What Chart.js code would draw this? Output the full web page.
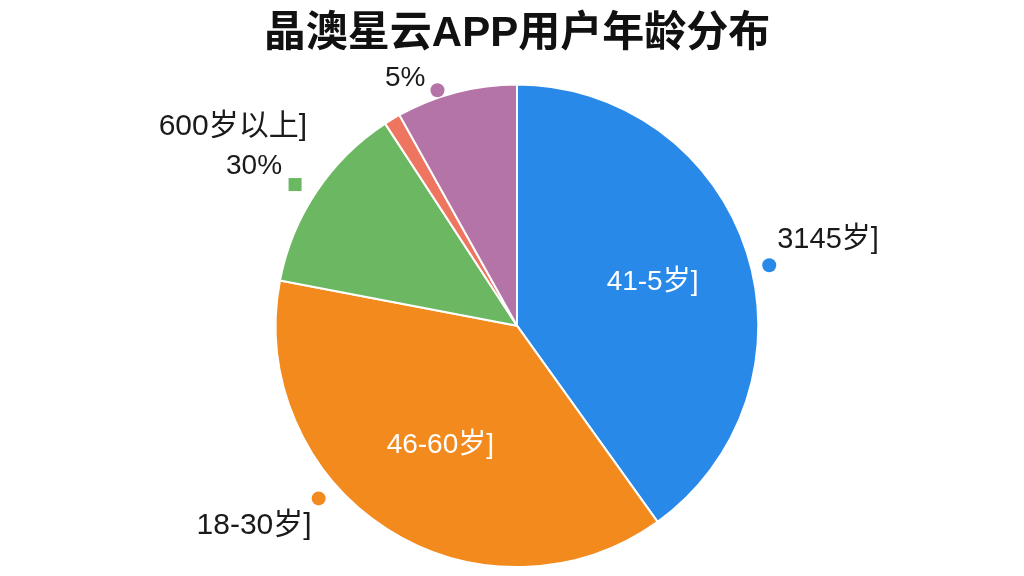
<!DOCTYPE html>
<html>
<head>
<meta charset="utf-8">
<script src="https://cdn.jsdelivr.net/npm/chart.js@4.4.1/dist/chart.umd.min.js"></script>
<style>
  html, body { margin: 0; padding: 0; background: #fff; }
  #wrap { width: 1024px; height: 576px; }
</style>
</head>
<body>
<div id="wrap"><canvas id="ageChart"></canvas></div>
<script>
// slice data, clockwise from 12 o'clock
const categories = ['3145岁]', '18-30岁]', '600岁以上]', '', '5%'];
const shares = [40.1, 37.9, 12.8, 1.1, 8.1];
const innerLabels = ['41-5岁]', '46-60岁]', '', '', ''];
const outerLabels = ['3145岁]', '18-30岁]', '600岁以上]', '', ''];
const percentLabels = ['', '', '30%', '', '5%'];
const sliceColors = ['#2889E9', '#F28A1E', '#6CB862', '#EE7560', '#B574A8'];

const FONT = "'Liberation Sans', 'Noto Sans CJK SC', sans-serif";

// where the marker sits along each slice and how its text hangs off it
const callouts = [
    { frac: 0.53, dist: 1.075, shape: 'circle', texts: [{ src: outerLabels, dx: 8, dy: -25, align: 'left', size: 29 }] },
    { frac: 0.62, dist: 1.09, shape: 'circle', texts: [{ src: outerLabels, dx: -7, dy: 27, align: 'right', size: 30 }] },
    { frac: 0.47, dist: 1.09, shape: 'square', texts: [
        { src: outerLabels, dx: 12, dy: -58, align: 'right', size: 30 },
        { src: percentLabels, dx: -13, dy: -18, align: 'right', size: 28 }
    ] },
    null,
    { frac: 0.36, dist: 1.03, shape: 'circle', texts: [{ src: percentLabels, dx: -12, dy: -12, align: 'right', size: 28 }] }
];

const labelPlugin = {
    id: 'sliceLabels',
    afterDatasetsDraw(chart) {
        const ctx = chart.ctx;
        const meta = chart.getDatasetMeta(0);
        ctx.save();
        meta.data.forEach((arc, i) => {
            const p = arc.getProps(['x', 'y', 'startAngle', 'endAngle', 'outerRadius'], true);
            const mid = (p.startAngle + p.endAngle) / 2;

            if (innerLabels[i]) {
                ctx.font = `28px ${FONT}`;
                ctx.fillStyle = '#fff';
                ctx.textAlign = 'center';
                ctx.textBaseline = 'middle';
                ctx.fillText(innerLabels[i], p.x + Math.cos(mid) * p.outerRadius * 0.59, p.y + Math.sin(mid) * p.outerRadius * 0.59);
            }

            const c = callouts[i];
            if (!c) return;
            const a = p.startAngle + c.frac * (p.endAngle - p.startAngle);
            const mx = p.x + Math.cos(a) * p.outerRadius * c.dist;
            const my = p.y + Math.sin(a) * p.outerRadius * c.dist;
            ctx.fillStyle = sliceColors[i];
            if (c.shape === 'square') {
                ctx.fillRect(mx - 6.5, my - 6.5, 13, 13);
            } else {
                ctx.beginPath();
                ctx.arc(mx, my, 7, 0, Math.PI * 2);
                ctx.fill();
            }

            ctx.fillStyle = '#1a1a1a';
            ctx.textBaseline = 'middle';
            c.texts.forEach(t => {
                ctx.font = `${t.size}px ${FONT}`;
                ctx.textAlign = t.align;
                ctx.fillText(t.src[i], mx + t.dx, my + t.dy);
            });
        });
        ctx.restore();
    }
};

new Chart(document.getElementById('ageChart'), {
    type: 'pie',
    data: {
        labels: categories,
        datasets: [{
            data: shares,
            backgroundColor: sliceColors,
            borderColor: '#fff',
            borderWidth: 2
        }]
    },
    options: {
        responsive: true,
        maintainAspectRatio: false,
        animation: false,
        layout: { padding: { top: 0, left: 10, right: 0, bottom: 8 } },
        plugins: {
            legend: { display: false },
            tooltip: { enabled: false },
            title: {
                display: true,
                text: '晶澳星云APP用户年龄分布',
                color: '#111',
                font: { family: FONT, size: 42, weight: 'bold', lineHeight: 1.2 },
                padding: { top: 9, bottom: 24 }
            }
        }
    },
    plugins: [labelPlugin]
});
</script>
</body>
</html>
